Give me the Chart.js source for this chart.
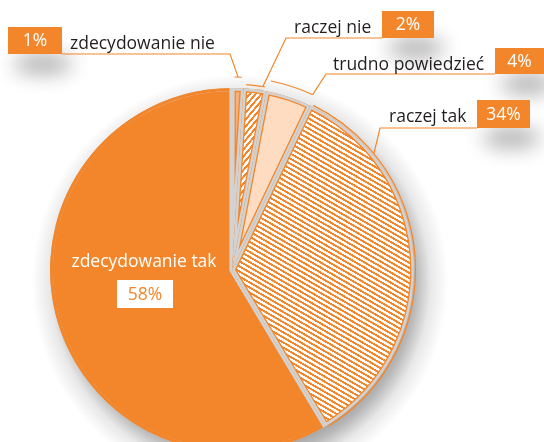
<!DOCTYPE html>
<html><head><meta charset="utf-8">
<script src="https://cdn.jsdelivr.net/npm/chart.js@4.4.1/dist/chart.umd.min.js"></script>
<style>
html,body{margin:0;padding:0;background:#fff;overflow:hidden;width:544px;height:442px;}
#wrap{position:absolute;left:0;top:0;width:544px;height:460px;}
</style></head>
<body><div id="wrap"><canvas id="c" width="544" height="460"></canvas></div>
<script>
// ---- data ----
const categories = ['zdecydowanie nie', 'raczej nie', 'trudno powiedzieć', 'raczej tak', 'zdecydowanie tak'];
const values = [1, 2, 4, 34, 58];
const valueLabels = ['1%', '2%', '4%', '34%', '58%'];

// ---- styles ----
const ORANGE = '#F3862A', PEACH = '#FDDCC2', LIGHT = '#F7B07A', GAP = '#D2D2D2', TEXT = '#231F20';
const FONT = '"Open Sans", sans-serif';
const FS = 17.5;
const BW = 2.6;

function stripes(angle, period, lw) {
  const t = document.createElement('canvas'); t.width = 20; t.height = 20;
  const g = t.getContext('2d');
  g.fillStyle = '#fff'; g.fillRect(0, 0, 20, 20);
  g.fillStyle = ORANGE; g.fillRect(0, 0, 20, 20 * lw / period);
  const p = document.createElement('canvas').getContext('2d').createPattern(t, 'repeat');
  p.setTransform(new DOMMatrix().rotateSelf(angle).scaleSelf(period / 20, period / 20));
  return p;
}

// label layout (positions only)
const labelLayout = [
  {box: [8, 27, 54, 27],   text: [70, 49],  elbow: [230, 54], arcR: 11, at: 0.5},
  {box: [382, 11, 52, 27], text: [294, 33], elbow: [286, 38], arcR: 4,  at: 0.9},
  {box: [495, 48, 49, 26], text: [333, 70], elbow: [326, 74], arcR: 11, at: 1.0},
  {box: [477, 100, 53, 28], text: [389, 122], elbow: [380, 128], arcR: 1.5, at: 0.2}
];
const bigLabel = {text: [144, 267], box: [117, 280, 56, 28]};

function slicePath(ctx, a) {
  ctx.beginPath();
  ctx.moveTo(a.x, a.y);
  ctx.arc(a.x, a.y, a.outerRadius, a.startAngle, a.endAngle);
  ctx.closePath();
}

function softEllipse(ctx, cx, cy, rx, ry, blur, color) {
  ctx.save();
  ctx.shadowColor = color;
  ctx.shadowBlur = blur;
  ctx.shadowOffsetX = 2000; ctx.shadowOffsetY = 0;
  ctx.fillStyle = '#000';
  ctx.beginPath(); ctx.ellipse(cx - 2000, cy, rx, ry, 0, 0, Math.PI * 2); ctx.fill();
  ctx.restore();
}

const deco = {
  id: 'deco',
  afterDatasetsDraw(chart) {
    const ctx = chart.ctx;
    const arcs = chart.getDatasetMeta(0).data;
    for (let i = 0; i < 4; i++) {
      const a = arcs[i];
      ctx.save();
      slicePath(ctx, a); ctx.clip();
      ctx.lineJoin = 'round';
      slicePath(ctx, a); ctx.strokeStyle = ORANGE; ctx.lineWidth = 2 * (BW + 1.3); ctx.stroke();
      slicePath(ctx, a); ctx.strokeStyle = GAP; ctx.lineWidth = 2 * BW; ctx.stroke();
      ctx.restore();
    }
    {
      const a = arcs[4];
      const d = BW / a.outerRadius;
      ctx.save(); slicePath(ctx, a); ctx.clip();
      ctx.beginPath(); ctx.arc(a.x, a.y, a.outerRadius - BW / 2, a.startAngle + d, a.endAngle - d);
      ctx.strokeStyle = ORANGE; ctx.lineWidth = BW + 1; ctx.stroke();
      ctx.restore();
    }
    // pie drop shadow (radial gradient) behind everything
    {
      const a = arcs[0];
      const sx = a.x + 8, sy = a.y + 12, R = a.outerRadius;
      const g = ctx.createRadialGradient(sx, sy, R - 24, sx, sy, R + 26);
      g.addColorStop(0, 'rgba(0,0,0,0.42)');
      g.addColorStop(0.35, 'rgba(0,0,0,0.28)');
      g.addColorStop(0.65, 'rgba(0,0,0,0.09)');
      g.addColorStop(1, 'rgba(0,0,0,0)');
      ctx.save();
      ctx.globalCompositeOperation = 'destination-over';
      ctx.fillStyle = g;
      ctx.beginPath(); ctx.arc(sx, sy, R + 26, 0, Math.PI * 2); ctx.fill();
      ctx.restore();
    }
    labelLayout.forEach((L, i) => {
      const a = arcs[i];
      const r = a.outerRadius + L.arcR;
      const inset = 2.5 / r;
      ctx.save();
      ctx.strokeStyle = ORANGE; ctx.lineWidth = 1.2;
      ctx.beginPath(); ctx.arc(a.x, a.y, r, a.startAngle + inset, a.endAngle - inset); ctx.stroke();
      const ang = a.startAngle + inset + (a.endAngle - a.startAngle - 2 * inset) * L.at;
      const ax = a.x + Math.cos(ang) * r, ay = a.y + Math.sin(ang) * r;
      const [bx, by, bw, bh] = L.box;
      const hx = (L.elbow[0] > bx) ? bx + bw : bx;
      ctx.beginPath(); ctx.moveTo(ax, ay); ctx.lineTo(L.elbow[0], L.elbow[1]); ctx.lineTo(hx, L.elbow[1]); ctx.stroke();
      ctx.save();
      ctx.globalCompositeOperation = 'destination-over';
      softEllipse(ctx, bx + bw / 2 + 8, by + bh + 10, bw * 0.55, 10, 20, 'rgba(0,0,0,0.32)');
      ctx.restore();
      ctx.fillStyle = ORANGE; ctx.fillRect(bx, by, bw, bh);
      ctx.font = FS + 'px ' + FONT;
      ctx.fillStyle = '#fff'; ctx.textAlign = 'center'; ctx.textBaseline = 'middle';
      ctx.fillText(valueLabels[i], bx + bw / 2, by + bh / 2 + 1);
      ctx.fillStyle = TEXT; ctx.textAlign = 'left'; ctx.textBaseline = 'alphabetic';
      ctx.fillText(categories[i], L.text[0], L.text[1]);
      ctx.restore();
    });
    ctx.save();
    ctx.font = FS + 'px ' + FONT;
    ctx.fillStyle = '#fff'; ctx.textAlign = 'center'; ctx.textBaseline = 'alphabetic';
    ctx.fillText(categories[4], bigLabel.text[0], bigLabel.text[1]);
    const [bx, by, bw, bh] = bigLabel.box;
    ctx.fillRect(bx, by, bw, bh);
    ctx.fillStyle = ORANGE; ctx.textBaseline = 'middle';
    ctx.fillText(valueLabels[4], bx + bw / 2, by + bh / 2 + 1);
    ctx.restore();
  }
};

new Chart(document.getElementById('c'), {
  type: 'pie',
  data: {
    labels: categories,
    datasets: [{
      data: values,
      backgroundColor: [LIGHT, stripes(-50, 4.4, 2), PEACH, stripes(30, 4.4, 2), ORANGE],
      borderColor: GAP, borderWidth: BW, borderAlign: 'inner'
    }]
  },
  options: {
    responsive: false, animation: false, events: [],
    layout: {padding: {left: 50, top: 88, right: 130, bottom: 8}},
    plugins: {legend: {display: false}, tooltip: {enabled: false}}
  },
  plugins: [deco]
});
</script>
</body></html>
